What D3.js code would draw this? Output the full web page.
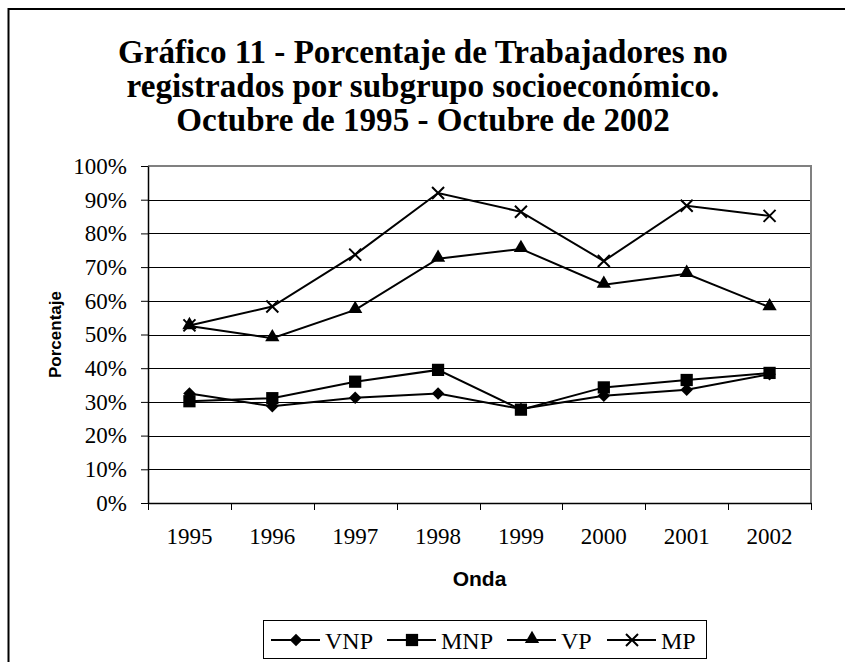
<!DOCTYPE html>
<html>
<head>
<meta charset="utf-8">
<script src="https://cdn.jsdelivr.net/npm/d3@7"></script>
<style>
  body { margin: 0; background: #fff; }
  svg { display: block; }
</style>
</head>
<body>
<div id="chart"></div>
<script>
// Data
const years = ["1995", "1996", "1997", "1998", "1999", "2000", "2001", "2002"]
const vnp = [0.325, 0.287, 0.312, 0.325, 0.279, 0.318, 0.336, 0.382]
const mnp = [0.302, 0.311, 0.360, 0.395, 0.277, 0.343, 0.365, 0.386]
const vp  = [0.525, 0.489, 0.573, 0.725, 0.754, 0.648, 0.680, 0.581]
const mp  = [0.527, 0.583, 0.737, 0.920, 0.864, 0.718, 0.882, 0.852]
const seriesNames = ["VNP", "MNP", "VP", "MP"]
const yTicks = [0, 0.1, 0.2, 0.3, 0.4, 0.5, 0.6, 0.7, 0.8, 0.9, 1]
const titleLines = [
  "Gráfico 11 - Porcentaje de Trabajadores no",
  "registrados por subgrupo socioeconómico.",
  "Octubre de 1995 - Octubre de 2002"
]

const series = [
  { name: seriesNames[0], values: vnp, marker: "diamond" },
  { name: seriesNames[1], values: mnp, marker: "square" },
  { name: seriesNames[2], values: vp,  marker: "triangle" },
  { name: seriesNames[3], values: mp,  marker: "cross" },
]

// Dimensions
const width = 845
const height = 662
const plot = { left: 148, right: 811, top: 166, bottom: 503 }

const serif = "'Liberation Serif', 'Times New Roman', serif"
const sans = "'Liberation Sans', Arial, sans-serif"

const svg = d3.select("#chart")
  .append("svg")
  .attr("width", width)
  .attr("height", height)

// outer frame (runs off the right and bottom like the original)
svg.append("rect")
  .attr("x", 8.5).attr("y", 9)
  .attr("width", width).attr("height", height)
  .attr("fill", "none")
  .attr("stroke", "#000")
  .attr("stroke-width", 2)

// Title
const titleX = 423
const title = svg.append("g")
title.selectAll("text")
  .data(titleLines)
  .join("text")
  .attr("x", 0)
  .attr("y", (d, i) => 63 + i * 34)
  .attr("text-anchor", "middle")
  .style("font-family", serif)
  .style("font-weight", "bold")
  .style("font-size", "33px")
  .text(d => d)
const firstWidth = title.select("text").node().getComputedTextLength()
const sx = 610 / firstWidth
title.attr("transform", `translate(${titleX},0) scale(${sx},1)`)

// Scales
const xScale = d3.scaleBand()
  .domain(years)
  .range([plot.left, plot.right])
  .padding(0)

const yScale = d3.scaleLinear()
  .domain([0, 1])
  .range([plot.bottom, plot.top])

// Gridlines
svg.append("g")
  .selectAll("line")
  .data(yTicks.slice(1, -1))
  .join("line")
  .attr("x1", plot.left).attr("x2", plot.right)
  .attr("y1", d => Math.round(yScale(d)) + 0.5)
  .attr("y2", d => Math.round(yScale(d)) + 0.5)
  .attr("stroke", "#000")
  .attr("stroke-width", 1)

// plot area border (top and right are grey)
svg.append("path")
  .attr("d", `M${plot.left},${plot.top}H${plot.right}V${plot.bottom}`)
  .attr("fill", "none")
  .attr("stroke", "#808080")
  .attr("stroke-width", 2)

// Y axis
const yAxis = svg.append("g")
  .attr("transform", `translate(${plot.left},0)`)
  .call(d3.axisLeft(yScale)
    .tickValues(yTicks)
    .tickFormat(d3.format(".0%"))
    .tickSizeInner(7)
    .tickSizeOuter(0)
    .tickPadding(14))
yAxis.select(".domain").attr("stroke", "#000").attr("stroke-width", 1.5)
yAxis.selectAll(".tick line").attr("stroke", "#000")
yAxis.selectAll(".tick text")
  .style("font-family", serif)
  .style("font-size", "23px")
  .attr("fill", "#000")

// X axis with ticks at the category boundaries
const xAxis = svg.append("g")
  .attr("transform", `translate(0,${plot.bottom})`)
  .call(d3.axisBottom(xScale)
    .tickSize(0)
    .tickPadding(25))
xAxis.select(".domain").attr("stroke", "#000").attr("stroke-width", 1.5)
xAxis.selectAll(".tick text")
  .style("font-family", serif)
  .style("font-size", "23px")
  .attr("fill", "#000")
xAxis.append("g")
  .selectAll("line")
  .data(years.concat(["end"]))
  .join("line")
  .attr("x1", (d, i) => Math.round(plot.left + i * xScale.step()) + 0.5)
  .attr("x2", (d, i) => Math.round(plot.left + i * xScale.step()) + 0.5)
  .attr("y1", 0).attr("y2", 7)
  .attr("stroke", "#000")

// Axis titles
svg.append("text")
  .attr("transform", `translate(61,${(plot.top + plot.bottom) / 2}) rotate(-90)`)
  .attr("text-anchor", "middle")
  .style("font-family", sans)
  .style("font-weight", "bold")
  .style("font-size", "17px")
  .text("Porcentaje")

svg.append("text")
  .attr("x", (plot.left + plot.right) / 2)
  .attr("y", 586)
  .attr("text-anchor", "middle")
  .style("font-family", sans)
  .style("font-weight", "bold")
  .style("font-size", "21px")
  .text("Onda")

// Markers
function drawMarker(sel, type) {
  if (type === "diamond") {
    sel.append("path")
      .attr("d", d3.symbol(d3.symbolSquare, 78)())
      .attr("transform", "rotate(45)")
      .attr("fill", "#000")
  } else if (type === "square") {
    sel.append("path")
      .attr("d", d3.symbol(d3.symbolSquare, 150)())
      .attr("fill", "#000")
  } else if (type === "triangle") {
    sel.append("path")
      .attr("d", d3.symbol(d3.symbolTriangle, 88)())
      .attr("transform", "translate(0,-1)")
      .attr("fill", "#000")
  } else {
    const r = 6
    sel.append("path")
      .attr("d", `M${-r},${-r}L${r},${r}M${-r},${r}L${r},${-r}`)
      .attr("stroke", "#000")
      .attr("stroke-width", 2)
      .attr("fill", "none")
  }
}

const lineGenerator = d3.line()
  .x((d, i) => xScale(years[i]) + xScale.bandwidth() / 2)
  .y(d => yScale(d))

const lines = svg.append("g")
series.forEach(s => {
  lines.append("path")
    .attr("d", lineGenerator(s.values))
    .attr("fill", "none")
    .attr("stroke", "#000")
    .attr("stroke-width", 2)
})
series.forEach(s => {
  lines.append("g")
    .selectAll("g")
    .data(s.values)
    .join("g")
    .attr("transform", (d, i) =>
      `translate(${xScale(years[i]) + xScale.bandwidth() / 2},${yScale(d)})`)
    .each(function () { drawMarker(d3.select(this), s.marker) })
})

// Legend
const legend = svg.append("g")
legend.append("rect")
  .attr("x", 263.5).attr("y", 620.5)
  .attr("width", 443).attr("height", 38)
  .attr("fill", "#fff")
  .attr("stroke", "#000")
  .attr("stroke-width", 1)

const legendX = [271, 387, 507, 607]
const legendItems = legend.selectAll("g")
  .data(series)
  .join("g")
  .attr("transform", (d, i) => `translate(${legendX[i]},640)`)

legendItems.append("line")
  .attr("x1", 0).attr("x2", 49)
  .attr("stroke", "#000")
  .attr("stroke-width", 2)
legendItems.append("g")
  .attr("transform", "translate(25,0)")
  .each(function (d) { drawMarker(d3.select(this), d.marker) })
legendItems.append("text")
  .attr("x", 54)
  .attr("y", 9)
  .style("font-family", serif)
  .style("font-size", "24px")
  .text(d => d.name)
</script>
</body>
</html>
